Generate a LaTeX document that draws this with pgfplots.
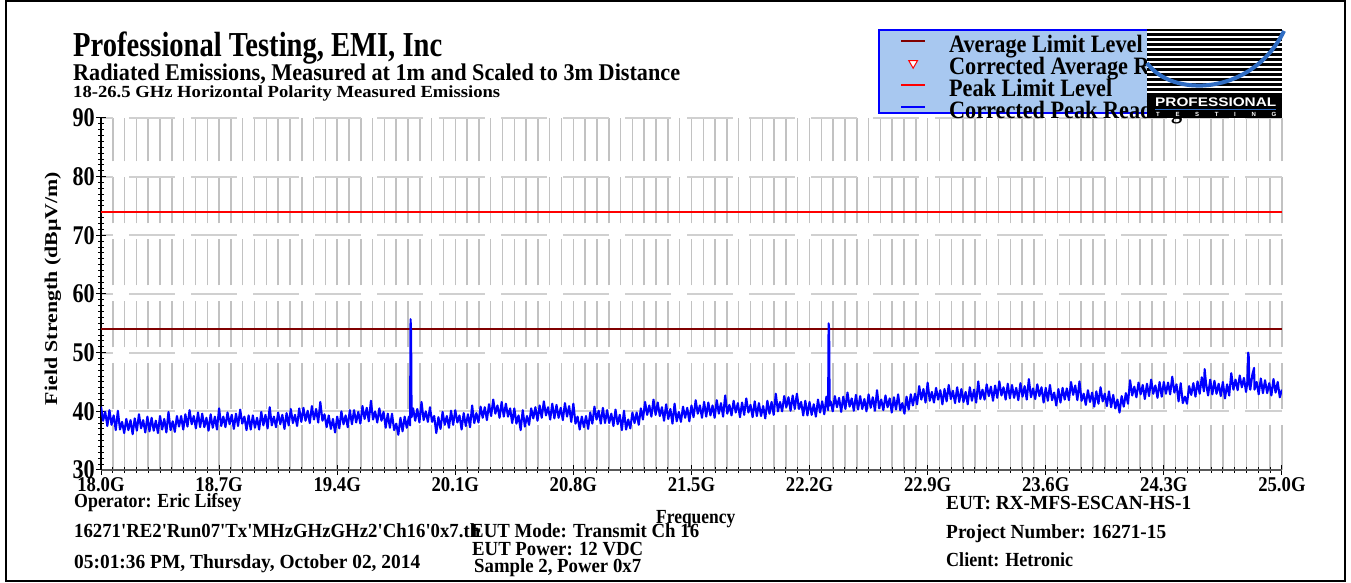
\documentclass[border=0pt]{standalone}
\usepackage{pgfplots}
\pgfplotsset{compat=1.18}
\usepackage{graphicx}
\usepackage{fontspec}
\setmainfont{Liberation Serif}
\newfontfamily\sansb{Liberation Sans}
\definecolor{legfill}{HTML}{A8C8F0}
\definecolor{avgred}{HTML}{800000}
\definecolor{gridv}{HTML}{C2C2C2}
\definecolor{gridh}{HTML}{D0D0D0}
\definecolor{logoblue}{HTML}{2F6DC4}
\pgfplotsset{
  lineimg/.style={legend image code/.code={\draw[##1, line width=2pt] (0pt,0pt) -- (24pt,0pt);}},
  triimg/.style={legend image code/.code={\draw[##1] plot coordinates {(12pt,0pt)};}},
}
\newcommand\txt[5]{\node[anchor=base west,inner sep=0pt] at (#1,583-#2) {\resizebox{#3pt}{\height}{\fontsize{#4pt}{#4pt}\selectfont\bfseries #5}};}
\newcommand\xl[1]{\scalebox{0.89}[1]{#1}}
\newcommand\yl[1]{\scalebox{0.82}[1]{#1}}
\newcommand\LT[1]{\raisebox{-11pt}[0pt][0pt]{\scalebox{0.89}[1]{#1}}}
\newcommand\q{\textquotesingle}
\pgfplotstableread{
x y
18.0000 40.8
18.0125 38.4
18.0250 39.9
18.0375 37.5
18.0500 40.2
18.0625 37.7
18.0750 39.3
18.0875 36.8
18.1000 40.1
18.1125 36.9
18.1250 38.2
18.1375 36.3
18.1500 38.7
18.1625 36.8
18.1750 38.5
18.1875 36.1
18.2000 38.8
18.2125 36.7
18.2250 39.5
18.2375 37.1
18.2500 38.5
18.2625 36.4
18.2750 39.1
18.2875 36.6
18.3000 38.9
18.3125 36.7
18.3250 38.4
18.3375 36.3
18.3500 39.2
18.3625 36.9
18.3750 38.7
18.3875 36.4
18.4000 39.9
18.4125 36.8
18.4250 38.3
18.4375 36.5
18.4500 39.2
18.4625 37.4
18.4750 39.2
18.4875 36.9
18.5000 39.5
18.5125 37.4
18.5250 40.2
18.5375 37.8
18.5500 39.2
18.5625 37.1
18.5750 39.8
18.5875 37.3
18.6000 39.6
18.6125 37.3
18.6250 38.9
18.6375 36.7
18.6500 39.5
18.6625 37.2
18.6750 39.1
18.6875 36.9
18.7000 40.5
18.7125 37.5
18.7250 39.1
18.7375 37.3
18.7500 39.8
18.7625 37.8
18.7750 39.4
18.7875 37.0
18.8000 39.6
18.8125 37.5
18.8250 40.3
18.8375 37.9
18.8500 39.1
18.8625 36.8
18.8750 39.3
18.8875 36.9
18.9000 39.3
18.9125 37.2
18.9250 38.9
18.9375 36.9
18.9500 39.9
18.9625 37.6
18.9750 39.4
18.9875 37.1
19.0000 40.7
19.0125 37.6
19.0250 39.1
19.0375 37.3
19.0500 39.8
19.0625 37.8
19.0750 39.4
19.0875 37.0
19.1000 39.7
19.1125 37.6
19.1250 40.4
19.1375 38.0
19.1500 39.4
19.1625 37.5
19.1750 40.5
19.1875 38.2
19.2000 40.6
19.2125 38.4
19.2250 40.1
19.2375 38.0
19.2500 40.9
19.2625 38.6
19.2750 40.4
19.2875 38.1
19.3000 41.6
19.3125 38.4
19.3250 39.5
19.3375 37.3
19.3500 39.3
19.3625 37.0
19.3750 38.7
19.3875 36.4
19.4000 39.1
19.4125 37.1
19.4250 40.0
19.4375 37.8
19.4500 39.3
19.4625 37.3
19.4750 40.2
19.4875 37.8
19.5000 40.2
19.5125 38.1
19.5250 39.9
19.5375 37.9
19.5500 40.9
19.5625 38.7
19.5750 40.6
19.5875 38.3
19.6000 41.8
19.6125 38.6
19.6250 40.0
19.6375 38.1
19.6500 40.5
19.6625 38.4
19.6750 39.9
19.6875 37.2
19.7000 39.6
19.7125 37.2
19.7250 39.6
19.7375 36.8
19.7500 37.9
19.7625 36.0
19.7750 38.9
19.7875 36.6
19.8000 39.1
19.8125 37.2
19.8250 39.1
19.8320 37.6
19.8350 55.7
19.8380 53.4
19.8410 39.0
19.8500 40.5
19.8625 38.4
19.8750 40.4
19.8875 38.1
19.9000 41.6
19.9125 38.5
19.9250 40.0
19.9375 38.2
19.9500 40.7
19.9625 38.2
19.9750 39.2
19.9875 36.3
20.0000 39.0
20.0125 37.0
20.0250 39.9
20.0375 37.7
20.0500 39.2
20.0625 37.2
20.0750 40.1
20.0875 37.7
20.1000 40.2
20.1125 38.1
20.1250 39.3
20.1375 36.9
20.1500 39.7
20.1625 37.5
20.1750 39.5
20.1875 37.3
20.2000 41.0
20.2125 38.0
20.2250 39.7
20.2375 38.1
20.2500 40.8
20.2625 38.9
20.2750 40.7
20.2875 38.5
20.3000 41.2
20.3125 39.2
20.3250 42.0
20.3375 39.6
20.3500 41.0
20.3625 38.9
20.3750 41.6
20.3875 39.1
20.4000 41.3
20.4125 39.1
20.4250 40.5
20.4375 38.0
20.4500 40.5
20.4625 37.9
20.4750 39.3
20.4875 36.8
20.5000 40.2
20.5125 37.4
20.5250 39.2
20.5375 37.7
20.5500 40.5
20.5625 38.8
20.5750 40.7
20.5875 38.4
20.6000 41.0
20.6125 38.9
20.6250 41.7
20.6375 39.3
20.6500 40.7
20.6625 38.6
20.6750 41.3
20.6875 38.8
20.7000 41.1
20.7125 38.9
20.7250 40.6
20.7375 38.5
20.7500 41.4
20.7625 39.1
20.7750 40.9
20.7875 38.2
20.8000 41.3
20.8125 37.9
20.8250 39.1
20.8375 36.9
20.8500 39.1
20.8625 37.3
20.8750 39.2
20.8875 37.0
20.9000 39.8
20.9125 37.9
20.9250 40.8
20.9375 38.6
20.9500 40.1
20.9625 37.9
20.9750 40.6
20.9875 38.0
21.0000 40.2
21.0125 38.0
21.0250 39.6
21.0375 37.5
21.0500 40.3
21.0625 37.8
21.0750 39.4
21.0875 36.8
21.1000 40.1
21.1125 36.9
21.1250 38.6
21.1375 37.1
21.1500 39.8
21.1625 38.0
21.1750 39.8
21.1875 37.7
21.2000 40.5
21.2125 38.6
21.2250 41.6
21.2375 39.4
21.2500 41.0
21.2625 39.1
21.2750 42.0
21.2875 39.4
21.3000 41.5
21.3125 39.2
21.3250 40.7
21.3375 38.4
21.3500 41.2
21.3625 38.7
21.3750 40.4
21.3875 37.9
21.4000 41.3
21.4125 38.3
21.4250 39.9
21.4375 38.2
21.4500 40.8
21.4625 38.9
21.4750 40.6
21.4875 38.3
21.5000 41.0
21.5125 39.0
21.5250 41.9
21.5375 39.6
21.5500 41.0
21.5625 38.9
21.5750 41.6
21.5875 39.1
21.6000 41.5
21.6125 39.3
21.6250 41.0
21.6375 38.9
21.6500 41.9
21.6625 39.6
21.6750 41.4
21.6875 39.1
21.7000 42.7
21.7125 39.6
21.7250 41.1
21.7375 39.3
21.7500 41.8
21.7625 39.8
21.7750 41.4
21.7875 39.0
21.8000 41.5
21.8125 39.4
21.8250 42.2
21.8375 39.8
21.8500 41.1
21.8625 39.0
21.8750 41.7
21.8875 39.2
21.9000 41.4
21.9125 39.2
21.9250 40.9
21.9375 38.8
21.9500 41.8
21.9625 39.6
21.9750 41.6
21.9875 39.4
22.0000 43.0
22.0125 40.0
22.0250 41.6
22.0375 40.0
22.0500 42.6
22.0625 40.7
22.0750 42.4
22.0875 40.1
22.1000 42.7
22.1125 40.4
22.1250 43.0
22.1375 40.4
22.1500 41.6
22.1625 39.3
22.1750 41.8
22.1875 39.3
22.2000 41.6
22.2125 39.4
22.2250 41.2
22.2375 39.1
22.2500 42.0
22.2625 39.8
22.2750 41.7
22.2875 39.5
22.3000 42.5
22.3100 40.2
22.3130 55.0
22.3160 54.0
22.3190 41.0
22.3250 41.7
22.3375 40.0
22.3500 42.6
22.3625 40.7
22.3750 42.3
22.3875 39.9
22.4000 42.5
22.4125 40.4
22.4250 43.2
22.4375 40.8
22.4500 42.2
22.4625 40.1
22.4750 42.8
22.4875 40.3
22.5000 42.6
22.5125 40.4
22.5250 42.1
22.5375 40.0
22.5500 42.9
22.5625 40.6
22.5750 42.4
22.5875 40.1
22.6000 43.6
22.6125 40.5
22.6250 42.0
22.6375 40.2
22.6500 42.7
22.6625 40.7
22.6750 42.2
22.6875 39.8
22.7000 42.4
22.7125 40.3
22.7250 42.9
22.7375 40.2
22.7500 41.4
22.7625 39.6
22.7750 42.5
22.7875 40.3
22.8000 42.9
22.8125 41.0
22.8250 43.0
22.8375 41.2
22.8500 44.3
22.8625 42.0
22.8750 43.8
22.8875 41.5
22.9000 44.9
22.9125 41.8
22.9250 43.3
22.9375 41.5
22.9500 44.0
22.9625 42.0
22.9750 43.6
22.9875 41.2
23.0000 43.8
23.0125 41.7
23.0250 44.5
23.0375 42.1
23.0500 43.5
23.0625 41.4
23.0750 44.1
23.0875 41.6
23.1000 43.8
23.1125 41.6
23.1250 43.3
23.1375 41.2
23.1500 44.1
23.1625 41.8
23.1750 43.7
23.1875 41.5
23.2000 45.1
23.2125 42.1
23.2250 43.7
23.2375 42.0
23.2500 44.6
23.2625 42.6
23.2750 44.2
23.2875 41.8
23.3000 44.4
23.3125 42.3
23.3250 45.1
23.3375 42.7
23.3500 44.1
23.3625 42.0
23.3750 44.7
23.3875 42.2
23.4000 44.5
23.4125 42.3
23.4250 44.0
23.4375 41.9
23.4500 44.8
23.4625 42.5
23.4750 44.3
23.4875 42.0
23.5000 45.5
23.5125 42.4
23.5250 43.9
23.5375 42.1
23.5500 44.6
23.5625 42.6
23.5750 44.1
23.5875 41.5
23.6000 44.0
23.6125 41.8
23.6250 44.5
23.6375 41.9
23.6500 43.2
23.6625 41.0
23.6750 43.8
23.6875 41.5
23.7000 44.0
23.7125 42.0
23.7250 43.9
23.7375 41.9
23.7500 45.0
23.7625 42.8
23.7750 44.4
23.7875 41.9
23.8000 45.1
23.8125 41.8
23.8250 43.0
23.8375 41.1
23.8500 43.6
23.8625 41.6
23.8750 43.2
23.8875 40.8
23.9000 43.4
23.9125 41.3
23.9250 44.1
23.9375 41.7
23.9500 43.0
23.9625 40.9
23.9750 43.4
23.9875 40.7
24.0000 42.8
24.0125 40.5
24.0250 42.0
24.0375 39.8
24.0500 42.6
24.0625 40.8
24.0750 43.1
24.0875 41.3
24.1000 45.3
24.1125 42.7
24.1250 44.2
24.1375 42.4
24.1500 44.9
24.1625 42.9
24.1750 44.5
24.1875 42.1
24.2000 44.7
24.2125 42.6
24.2250 45.4
24.2375 43.0
24.2500 44.4
24.2625 42.3
24.2750 45.0
24.2875 42.5
24.3000 45.0
24.3125 43.0
24.3250 44.9
24.3375 42.9
24.3500 45.9
24.3625 43.2
24.3750 44.6
24.3875 41.7
24.4000 44.8
24.4125 41.4
24.4250 42.5
24.4375 41.3
24.4500 44.3
24.4625 42.8
24.4750 44.8
24.4875 42.5
24.5000 45.1
24.5125 43.0
24.5250 45.8
24.5375 43.4
24.5420 47.2
24.5500 44.8
24.5625 42.7
24.5750 45.4
24.5875 42.9
24.6000 45.2
24.6125 43.0
24.6250 44.7
24.6375 42.6
24.6500 45.0
24.6625 42.2
24.6750 44.6
24.6875 42.7
24.7000 46.5
24.7125 43.7
24.7250 45.4
24.7375 43.6
24.7500 46.1
24.7625 44.1
24.7750 45.7
24.7875 43.3
24.7950 45.0
24.8000 50.0
24.8030 49.5
24.8070 44.5
24.8125 43.7
24.8250 46.3
24.8350 47.4
24.8375 43.7
24.8500 45.0
24.8625 42.9
24.8750 45.6
24.8875 43.1
24.9000 45.3
24.9125 43.1
24.9250 44.8
24.9375 42.7
24.9500 45.5
24.9625 43.2
24.9750 45.0
24.9875 42.4
25.0000 43.7
}\peakdata
\begin{document}
\begin{tikzpicture}[x=1pt,y=1pt]
\useasboundingbox (0,0) rectangle (1351,583);
% legend background
\filldraw[fill=legfill, draw=blue, line width=1.5pt] (879,583-30) rectangle (1279,583-113);
\begin{axis}[
  at={(101pt,113pt)}, anchor=south west,
  scale only axis, width=1181pt, height=352pt,
  xmin=18, xmax=25, ymin=30, ymax=90,
  axis lines=left, axis line style={-},
  x axis line style={-, draw=black!65, line width=2pt},
  y axis line style={-, draw=black, line width=1.5pt},
  xtick={18,18.7,19.4,20.1,20.8,21.5,22.2,22.9,23.6,24.3,25},
  xticklabels={\xl{18.0G},\xl{18.7G},\xl{19.4G},\xl{20.1G},\xl{20.8G},\xl{21.5G},\xl{22.2G},\xl{22.9G},\xl{23.6G},\xl{24.3G},\xl{25.0G}},
  minor x tick num=9,
  ytick={30,40,50,60,70,80,90},
  yticklabels={\yl{30},\yl{40},\yl{50},\yl{60},\yl{70},\yl{80},\yl{90}},
  minor y tick num=9,
  tick align=center,
  major tick length=10pt, minor tick length=6pt,
  every tick/.style={black, line width=1pt},
  xmajorgrids, xminorgrids, ymajorgrids,
  major x grid style={gridv, line width=1.5pt, dash pattern=on 46.5pt off 15.5pt, dash phase=1.5pt},
  minor x grid style={gridv, line width=1.5pt, dash pattern=on 46.5pt off 15.5pt, dash phase=1.5pt},
  major y grid style={gridh, line width=2pt, dash pattern=on 46pt off 16pt, dash phase=34pt},
  xticklabel style={font=\fontsize{21pt}{21pt}\selectfont\bfseries, inner sep=0pt, anchor=base, yshift=-17pt},
  yticklabel style={font=\fontsize{27pt}{27pt}\selectfont\bfseries, inner sep=0pt, anchor=east, xshift=-1pt},
  legend style={at={(axis description cs:0.67655,1.25)}, anchor=north west, draw=none, fill=none,
    inner sep=0pt, row sep=0pt, column sep=23pt,
    nodes={inner sep=0pt, text depth=0pt, text height=0pt, minimum height=22pt, font=\fontsize{25pt}{25pt}\selectfont\bfseries}},
  legend cell align=left,
  lineimg,
]
\addplot[avgred, line width=2.5pt] coordinates {(18,54) (25,54)};
\addlegendentry{\LT{Average Limit Level}}
\addlegendimage{only marks, mark=triangle*, mark size=5pt, mark options={rotate=180, fill=white, draw=red, line width=1pt}, triimg}
\addlegendentry{\LT{Corrected Average Reading}}
\addplot[red, line width=2.5pt] coordinates {(18,74) (25,74)};
\addlegendentry{\LT{Peak Limit Level}}
\addplot[blue, line width=2.1pt, line join=round] table[x=x,y=y] {\peakdata};
\addlegendentry{\LT{Corrected Peak Reading}}
\end{axis}
% logo
\fill[black] (1147,583-29) rectangle (1282,583-118);
\foreach \k in {0,...,12} {\fill[white] (1147,583-31-5*\k) rectangle (1282,583-33.5-5*\k);}
\draw[logoblue, line width=4pt] (1147,583-63) .. controls (1172,583-98) and (1252,583-96) .. (1284,583-31);
\node[anchor=base west, inner sep=0pt, text=white] at (1155,583-107) {\resizebox{121pt}{\height}{\sansb\bfseries\fontsize{12.5pt}{12.5pt}\selectfont PROFESSIONAL}};
\draw[logoblue, line width=1.5pt] (1155,583-109.5) -- (1276,583-109.5);
\node[anchor=base west, inner sep=0pt, text=white] at (1156,583-117) {\sansb\bfseries\fontsize{6pt}{6pt}\selectfont\makebox[120pt][s]{T\hfill E\hfill S\hfill T\hfill I\hfill N\hfill G}};
% texts
\txt{73}{57}{369}{35}{Professional Testing, EMI, Inc}
\txt{73}{81}{607}{24}{Radiated Emissions, Measured at 1m and Scaled to 3m Distance}
\txt{73}{98}{427}{17}{18-26.5 GHz Horizontal Polarity Measured Emissions}
\txt{74}{508}{167}{20}{Operator: Eric Lifsey}
\txt{74}{538}{406}{20}{16271\q RE2\q Run07\q Tx\q MHzGHzGHz2\q Ch16\q 0x7.th}
\txt{74}{569}{346}{20}{05:01:36 PM, Thursday, October 02, 2014}
\txt{471}{538}{228}{20}{EUT Mode: Transmit Ch 16}
\txt{472}{556}{171}{20}{EUT Power: 12 VDC}
\txt{474}{573}{167}{20}{Sample 2, Power 0x7}
\txt{656}{524}{79}{20}{Frequency}
\txt{946}{510}{245}{20}{EUT: RX-MFS-ESCAN-HS-1}
\txt{946}{539}{220}{20}{Project Number: 16271-15}
\txt{946}{567}{127}{20}{Client: Hetronic}
\node[rotate=90, anchor=base, inner sep=0pt] at (57,583-288.5) {\resizebox{233pt}{\height}{\fontsize{18pt}{18pt}\selectfont\bfseries Field Strength (dB\textmu V/m)}};
% frame
\draw[line width=2pt] (6,583-1.5) rectangle (1345,583-581.5);
\end{tikzpicture}
\end{document}
